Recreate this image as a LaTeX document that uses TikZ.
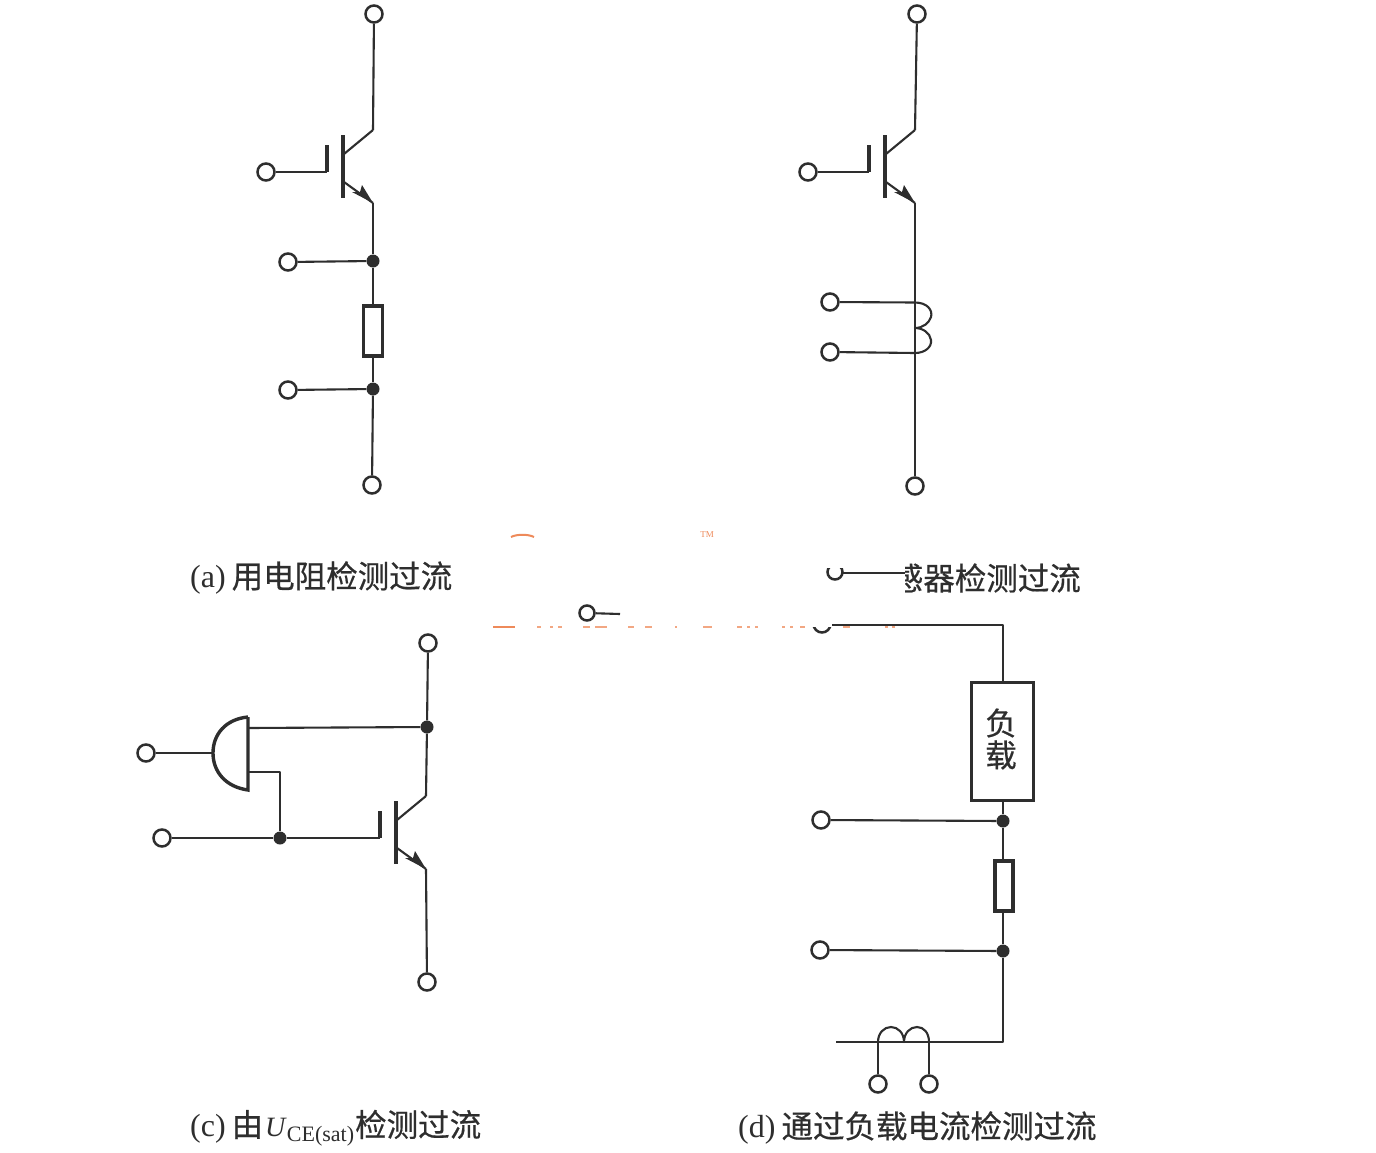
\documentclass[tikz,border=0pt]{standalone}
\usepackage{fontspec}
\setmainfont{Liberation Serif}
\newfontfamily\cjk[FakeBold=0.5]{Noto Sans CJK SC}
\newcommand{\cjktext}[1]{{\cjk\fontsize{31.5}{33}\selectfont #1}}
\definecolor{ink}{HTML}{2E2E2E}
\definecolor{wm}{HTML}{EE8A5A}
\tikzset{
  x=1pt,y=-1pt,
  wire/.style={draw=ink,line width=2.1pt,line join=round},
  heavy/.style={draw=ink,line width=3.4pt,line join=miter},
  term/.style={circle,draw=ink,line width=2.5pt,fill=white,inner sep=0pt,minimum size=17pt},
  termcut/.style={circle,draw=ink,line width=2.5pt,inner sep=0pt,minimum size=15pt},
  jn/.style={circle,fill=ink,inner sep=0pt,minimum size=13pt},
  res/.style={rectangle,draw=ink,line width=3.4pt,fill=white,inner sep=0pt},
  captext/.style={inner sep=0pt,font=\fontsize{32}{34}\selectfont,text=ink},
  han/.style={inner sep=0pt,font=\cjk\fontsize{31.5}{33}\selectfont,text=ink},
  wmark/.style={draw=wm,line width=2pt},
}
% #1 name, #2 bar x, #3 gate y
\newcommand{\igbtsym}[3]{%
  \coordinate (#1-g) at (#2-16,#3);
  \coordinate (#1-gt) at (#2-16,#3-27);
  \coordinate (#1-bt) at (#2,#3-37);
  \coordinate (#1-bb) at (#2,#3+26);
  \coordinate (#1-ci) at (#2+1,#3-18);
  \coordinate (#1-c) at (#2+30,#3-42);
  \coordinate (#1-ei) at (#2+1,#3+10);
  \coordinate (#1-e) at (#2+30,#3+31);
  \draw[heavy] (#1-gt) -- (#1-g);
  \draw[heavy,line width=4pt] (#1-bt) -- (#1-bb);
  \draw[wire] (#1-ci) -- (#1-c);
  \draw[wire] (#1-ei) -- (#1-e);
  \fill[ink] (#1-e) -- ++(-21,-11) -- ++(8,0) -- ++(2,-7) -- cycle;
}
\begin{document}
\begin{tikzpicture}
\useasboundingbox (0,0) rectangle (1376,1152);
\fill[white] (0,0) rectangle (1376,1152);

% ---------- (a)
\igbtsym{qa}{343}{172}
\node[term] (a1) at (374,14) {};
\node[term] (a2) at (266,172) {};
\node[jn] (a3) at (373,261) {};
\node[term] (a4) at (288,262) {};
\node[res,minimum width=19pt,minimum height=50pt] (a5) at (373,331) {};
\node[jn] (a6) at (373,389) {};
\node[term] (a7) at (288,390) {};
\node[term] (a8) at (372,485) {};
\draw[wire] (a1) -- (qa-c);
\draw[wire] (a2) -- (qa-g);
\draw[wire] (qa-e) -- (a3);
\draw[wire] (a4) -- (a3);
\draw[wire] (a3) -- (a5);
\draw[wire] (a5) -- (a6);
\draw[wire] (a7) -- (a6);
\draw[wire] (a6) -- (a8);

% ---------- (b)
\igbtsym{qb}{885}{172}
\node[term] (b1) at (917,14) {};
\node[term] (b2) at (808,172) {};
\node[term] (b3) at (830,302) {};
\node[term] (b4) at (830,352) {};
\node[term] (b5) at (915,486) {};
\coordinate (b6) at (915,302.5);
\coordinate (b7) at (915,328);
\coordinate (b8) at (915,353);
\draw[wire] (b1) -- (qb-c);
\draw[wire] (b2) -- (qb-g);
\draw[wire] (qb-e) -- (b5);
\draw[wire] (b3) -- (b6);
\draw[wire] (b4) -- (b8);
\draw[wire] (b6) .. controls (927,302.5) and (933,310) .. (931,317) .. controls (929,323) and (923,328) .. (b7)
  .. controls (923,328) and (930,333) .. (931,340) .. controls (932,347) and (925,353) .. (b8);

% ---------- (c)
\igbtsym{qc}{396}{838}
\node[term] (c1) at (428,643) {};
\node[jn] (c2) at (427,727) {};
\node[term] (c3) at (427,982) {};
\node[term] (c4) at (146,753) {};
\node[term] (c5) at (162,838) {};
\node[jn] (c6) at (280,838) {};
\coordinate (c7) at (248,717);
\coordinate (c8) at (248,790);
\coordinate (c9) at (213,753);
\coordinate (c10) at (248,728);
\coordinate (c11) at (248,772);
\draw[heavy] (c7) -- (c8) .. controls (226,787) and (213,772) .. (c9)
   .. controls (213,734) and (226,719) .. (c7);
\draw[wire] (c1) -- (c2);
\draw[wire] (c2) -- (qc-c);
\draw[wire] (qc-e) -- (c3);
\draw[wire] (c10) -- (c2);
\draw[wire] (c4) -- (c9);
\draw[wire] (c11) -| (c6);
\draw[wire] (c5) -- (c6);
\draw[wire] (c6) -- (qc-g);

% ---------- (d)
\begin{scope}
\clip (800,627) rectangle (860,640);
\node[termcut,minimum size=17pt] (d1) at (822,624) {};
\end{scope}
\begin{scope}
\clip (810,568) rectangle (860,590);
\node[termcut] (d16) at (835,572) {};
\end{scope}
\coordinate (d20) at (843,573);
\coordinate (d17) at (905,573);
\draw[wire] (d20) -- (d17);
\node[res,minimum width=62pt,minimum height=118pt] (d2) at (1002.5,741.5) {};
\node[han] (d14) at (1001,723) {负};
\node[han] (d15) at (1001,755) {载};
\coordinate (d3) at (1003,625);
\coordinate (d21) at (832,625);
\node[jn] (d4) at (1003,821) {};
\node[term] (d5) at (821,820) {};
\node[res,minimum width=18pt,minimum height=50pt] (d6) at (1004,886) {};
\node[jn] (d7) at (1003,951) {};
\node[term] (d8) at (820,950) {};
\coordinate (d9) at (1003,1042);
\coordinate (d10) at (836,1042);
\coordinate (d11) at (878,1042);
\coordinate (d12) at (904,1042);
\coordinate (d13) at (929,1042);
\node[term] (d18) at (878,1084) {};
\node[term] (d19) at (929,1084) {};
\draw[wire] (d21) -- (d3) -- (d2.north -| d3);
\draw[wire] (d2.south -| d4) -- (d4);
\draw[wire] (d5) -- (d4);
\draw[wire] (d4) -- (d6.north -| d4);
\draw[wire] (d6.south -| d7) -- (d7);
\draw[wire] (d8) -- (d7);
\draw[wire] (d7) -- (d9) -- (d10);
\draw[wire] (d18) -- (d11);
\draw[wire] (d19) -- (d13);
\draw[wire] (d11) .. controls (878,1033) and (884,1027) .. (891,1027) .. controls (898,1027) and (904,1033) .. (d12)
  .. controls (904,1033) and (910,1027) .. (917,1027) .. controls (924,1027) and (929,1033) .. (d13);

% stray terminal
\node[term,minimum size=15pt] (e1) at (587,613) {};
\coordinate (e2) at (620,614);
\draw[wire] (e1) -- (e2);

% watermark remnants
\node[text=wm,font=\fontsize{9}{9}\selectfont,inner sep=0pt] (w1) at (707,535) {TM};
\coordinate (w2) at (511,537);
\coordinate (w3) at (534,537);
\draw[wmark] (w2) .. controls (517,534) and (528,534) .. (w3);
\coordinate (w4) at (493,627);
\coordinate (w5) at (515,627);
\draw[wmark] (w4) -- (w5);
\foreach \xa/\xb in {537/541,550/553,558/562,583/590,595/607,628/634,645/652,675/677,703/712,737/742,747/750,755/758,782/785,790/793,800/805,843/850,885/888,892/895}
  \draw[wmark,opacity=.75] (\xa,627) -- (\xb,627);

% captions
\node[captext,anchor=west] (t1) at (190,578) {(a)\kern6pt\cjktext{用电阻检测过流}};
\begin{scope}
\clip (905,550) rectangle (1100,600);
\node[han,anchor=east] (t2) at (1081,578) {感器检测过流};
\end{scope}
\node[captext,anchor=west] (t3) at (190,1128) {(c)\kern6pt\cjktext{由}\kern2pt{\fontsize{28}{30}\selectfont\textit{U}}\raisebox{-5pt}{\fontsize{22}{22}\selectfont CE(sat)}\kern1pt\cjktext{检测过流}};
\node[captext,anchor=west] (t4) at (738,1128) {(d)\kern6pt\cjktext{通过负载电流检测过流}};
\end{tikzpicture}
\end{document}
